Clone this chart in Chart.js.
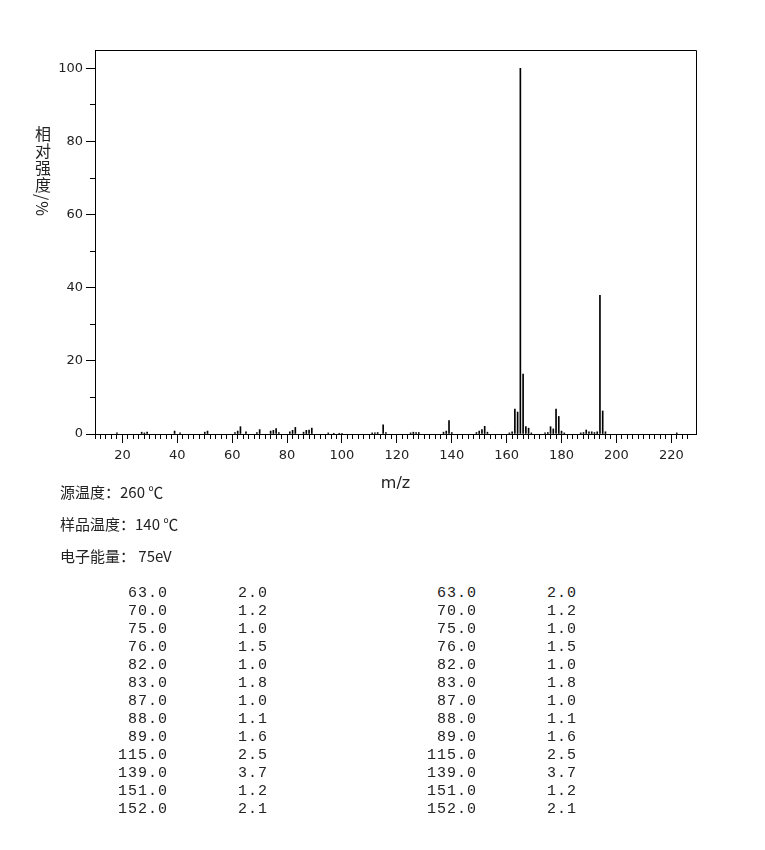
<!DOCTYPE html>
<html>
<head>
<meta charset="utf-8">
<script src="https://cdn.jsdelivr.net/npm/chart.js@4"></script>
<style>
  body { margin: 0; background: #fff; }
  #wrap { position: relative; width: 765px; height: 850px; }
  #chart { position: absolute; left: 0; top: 0; }
  #ytitle {
    position: absolute; left: 31px; top: 126px;
    writing-mode: vertical-rl; text-orientation: mixed;
    font: 16px "Noto Sans CJK SC", sans-serif; letter-spacing: 1px; color: #222;
  }
  .info { position: absolute; left: 60px; font: 15px "Noto Sans CJK SC", sans-serif; color: #222; white-space: pre; }
  .cell { position: absolute; font: 15px "Liberation Mono", monospace; letter-spacing: 1px; color: #222; text-align: right; width: 80px; }
</style>
</head>
<body>
<div id="wrap">
  <canvas id="chart" width="765" height="500"></canvas>
  <div id="ytitle">相对强度/%</div>
  <div class="info" style="top:481px">源温度：260 ℃</div>
  <div class="info" style="top:513px">样品温度：140 ℃</div>
  <div class="info" style="top:545px">电子能量： 75eV</div>
</div>
<script>
// peaks (m/z, relative intensity %)
const mz = [18, 27, 28, 29, 39, 41, 50, 51, 61, 62, 63, 65, 69, 70, 74, 75, 76, 77, 81, 82, 83,
  86, 87, 88, 89, 95, 97, 99, 100, 111, 112, 113, 115, 116, 125, 126, 127, 128, 137, 138, 139, 140,
  149, 150, 151, 152, 153, 161, 162, 163, 164, 165, 166, 167, 168, 169, 174, 175, 176, 177, 178,
  179, 180, 181, 187, 188, 189, 190, 191, 192, 193, 194, 195, 196, 222];
const intensity = [0.3, 0.5, 0.3, 0.5, 0.8, 0.3, 0.5, 0.8, 0.4, 0.8, 2.0, 0.6, 0.4, 1.2, 0.8, 1.0, 1.5, 0.4, 0.6, 1.0, 1.8,
  0.5, 1.0, 1.1, 1.6, 0.3, 0.2, 0.2, 0.2, 0.3, 0.3, 0.4, 2.5, 0.4, 0.3, 0.5, 0.4, 0.4, 0.5, 0.8, 3.7, 0.4,
  0.4, 0.8, 1.2, 2.1, 0.5, 0.3, 0.6, 6.8, 6.0, 100, 16.4, 2.0, 1.6, 0.3, 0.3, 0.4, 2.0, 1.4, 6.8,
  4.8, 0.8, 0.3, 0.3, 0.4, 1.1, 0.6, 0.6, 0.4, 0.6, 37.9, 6.3, 0.6, 0.3];

// labelled ticks
const xTickValues = [20, 40, 60, 80, 100, 120, 140, 160, 180, 200, 220];
const yTickValues = [0, 20, 40, 60, 80, 100];

// peak table printed under the chart
const tableMz = ['63.0', '70.0', '75.0', '76.0', '82.0', '83.0', '87.0', '88.0', '89.0', '115.0', '139.0', '151.0', '152.0'];
const tableInt = ['2.0', '1.2', '1.0', '1.5', '1.0', '1.8', '1.0', '1.1', '1.6', '2.5', '3.7', '1.2', '2.1'];

const wrap = document.getElementById('wrap');
const colRight = [168, 268, 477, 577];
tableMz.forEach((m, i) => {
    [m, tableInt[i], m, tableInt[i]].forEach((t, c) => {
        const d = document.createElement('div');
        d.className = 'cell';
        d.textContent = t;
        d.style.left = (colRight[c] - 80) + 'px';
        d.style.top = (585 + i * 18) + 'px';
        wrap.appendChild(d);
    });
});

const tickFont = { family: 'DejaVu Sans', size: 13 };

// draws the top and right sides of the plot box
const frame = {
    id: 'frame',
    afterDraw(chart) {
        const { ctx, chartArea: a } = chart;
        ctx.save();
        ctx.strokeStyle = '#000';
        ctx.lineWidth = 1;
        ctx.beginPath();
        ctx.moveTo(Math.round(a.left) + 0.5, Math.round(a.top) + 0.5);
        ctx.lineTo(Math.round(a.right) + 0.5, Math.round(a.top) + 0.5);
        ctx.lineTo(Math.round(a.right) + 0.5, Math.round(a.bottom) + 0.5);
        ctx.stroke();
        ctx.restore();
    }
};

new Chart(document.getElementById('chart'), {
    type: 'bar',
    data: {
        datasets: [{
            data: mz.map((m, i) => ({ x: m, y: intensity[i] })),
            backgroundColor: '#000',
            barThickness: 1,
            xAxisID: 'x',
            yAxisID: 'y'
        }]
    },
    options: {
        responsive: false,
        animation: false,
        layout: { padding: { left: 0, top: 50, right: 69, bottom: 0 } },
        plugins: { legend: { display: false }, tooltip: { enabled: false } },
        scales: {
            x: {
                type: 'linear', position: 'bottom', weight: 1, offset: false,
                min: 10, max: 229,
                grid: { drawOnChartArea: false, tickLength: 9, color: '#000', offset: false },
                border: { color: '#000' },
                ticks: { autoSkip: false, maxRotation: 0, padding: 5, color: '#222', font: tickFont },
                afterBuildTicks: s => { s.ticks = xTickValues.map(v => ({ value: v })); },
                title: { display: true, text: 'm/z', color: '#222', font: { family: 'DejaVu Sans', size: 16 }, padding: { top: 0, bottom: 7 } },
                afterFit: s => { s.height = 66; }
            },
            x2: {
                type: 'linear', position: 'bottom', weight: 0, offset: false,
                min: 10, max: 229,
                grid: { drawOnChartArea: false, tickLength: 5, color: '#000', offset: false },
                border: { display: false },
                ticks: { stepSize: 2, autoSkip: false, display: false },
                afterBuildTicks: s => { s.ticks = s.ticks.filter(t => t.value % 2 === 0); },
                afterFit: s => { s.height = 0; }
            },
            y: {
                type: 'linear', position: 'left', weight: 1,
                min: 0, max: 105,
                grid: { drawOnChartArea: false, tickLength: 9, color: '#000' },
                border: { color: '#000' },
                ticks: { padding: 3, color: '#222', font: tickFont },
                afterBuildTicks: s => { s.ticks = yTickValues.map(v => ({ value: v })); },
                afterFit: s => { s.width = 95; }
            },
            y2: {
                type: 'linear', position: 'left', weight: 0,
                min: 0, max: 105,
                grid: { drawOnChartArea: false, tickLength: 5, color: '#000' },
                border: { display: false },
                ticks: { stepSize: 10, display: false },
                afterBuildTicks: s => { s.ticks = s.ticks.filter(t => t.value % 10 === 0); },
                afterFit: s => { s.width = 0; }
            }
        }
    },
    plugins: [frame]
});
</script>
</body>
</html>
